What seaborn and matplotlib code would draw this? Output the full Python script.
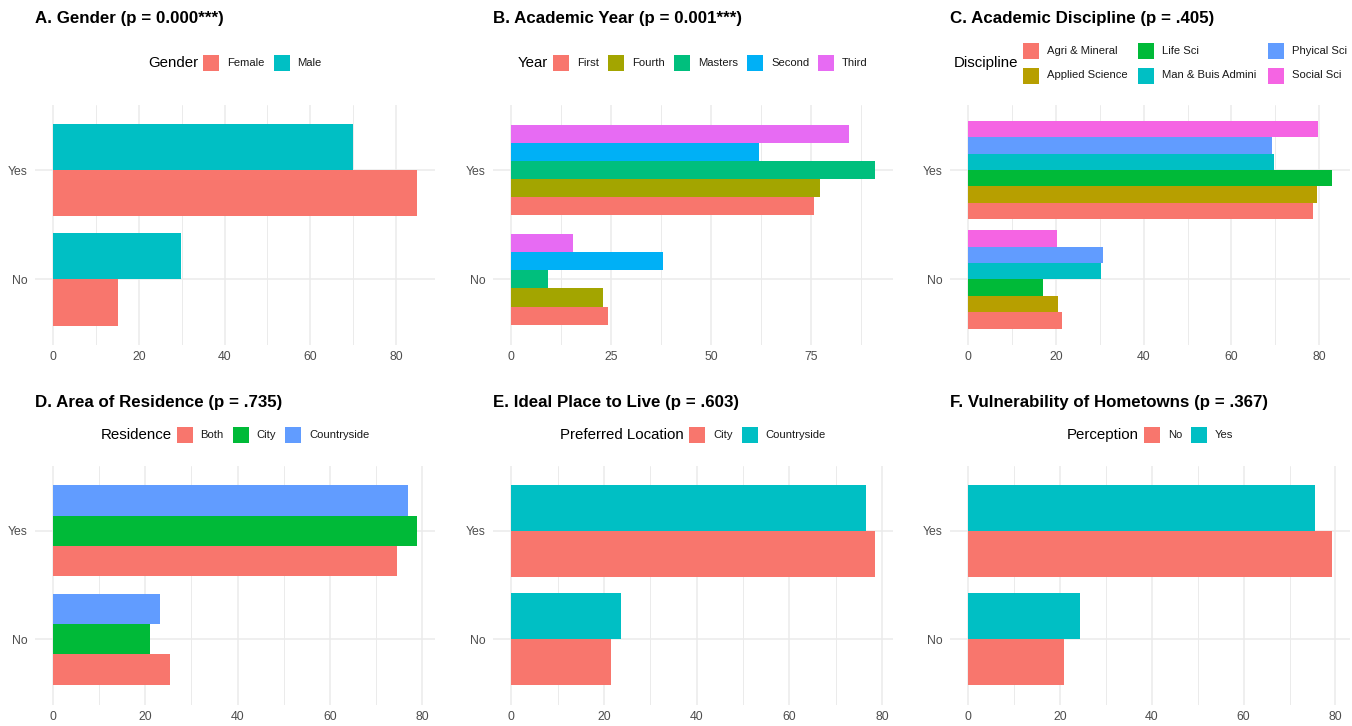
import numpy as np
import pandas as pd
import matplotlib
matplotlib.use("Agg")
import matplotlib.pyplot as plt
import seaborn as sns
from matplotlib.ticker import MultipleLocator, NullFormatter
from matplotlib.offsetbox import AnchoredOffsetbox, HPacker, VPacker, TextArea, DrawingArea
from matplotlib.patches import Rectangle

# ---------------- data (percent within group) ----------------
responses = ["No", "Yes"]

gender_groups = ["Female", "Male"]
gender_yes = [84.9, 70.1]
gender_no = [15.1, 29.9]

year_groups = ["First", "Fourth", "Masters", "Second", "Third"]
year_yes = [75.8, 77.1, 90.9, 62.0, 84.5]
year_no = [24.2, 22.9, 9.1, 38.0, 15.5]

disc_groups = ["Agri & Mineral", "Applied Science", "Life Sci", "Man & Buis Admini",
               "Phyical Sci", "Social Sci"]
disc_yes = [78.6, 79.6, 82.9, 69.7, 69.2, 79.8]
disc_no = [21.4, 20.4, 17.1, 30.3, 30.8, 20.2]

res_groups = ["Both", "City", "Countryside"]
res_yes = [74.7, 78.9, 76.9]
res_no = [25.3, 21.1, 23.1]

ideal_groups = ["City", "Countryside"]
ideal_yes = [78.4, 76.4]
ideal_no = [21.6, 23.6]

vuln_groups = ["No", "Yes"]
vuln_yes = [79.2, 75.6]
vuln_no = [20.8, 24.4]

titles = ["A. Gender (p = 0.000***)", "B. Academic Year (p = 0.001***)",
          "C. Academic Discipline (p = .405)", "D. Area of Residence (p = .735)",
          "E. Ideal Place to Live (p = .603)", "F. Vulnerability of Hometowns (p = .367)"]
legend_titles = ["Gender", "Year", "Discipline", "Residence", "Preferred Location", "Perception"]

palettes = {
    2: ["#F8766D", "#00BFC4"],
    3: ["#F8766D", "#00BA38", "#619CFF"],
    5: ["#F8766D", "#A3A500", "#00BF7D", "#00B0F6", "#E76BF3"],
    6: ["#F8766D", "#B79F00", "#00BA38", "#00BFC4", "#619CFF", "#F564E3"],
}

panels = [
    (gender_groups, gender_yes, gender_no),
    (year_groups, year_yes, year_no),
    (disc_groups, disc_yes, disc_no),
    (res_groups, res_yes, res_no),
    (ideal_groups, ideal_yes, ideal_no),
    (vuln_groups, vuln_yes, vuln_no),
]
major_steps = [20, 25, 20, 20, 20, 20]
bar_widths = [0.845, 0.83, 0.9, 0.835, 0.845, 0.845]

# ---------------- style ----------------
sns.set_theme(style="white")
FONT = "Liberation Sans"
plt.rcParams["font.family"] = [FONT, "DejaVu Sans"]

W, H, DPI = 1352, 726, 100
fig = plt.figure(figsize=(W / DPI, H / DPI), dpi=DPI)


def px(v):
    return v * 72.0 / DPI


# panel boxes in pixels: (left, right, top, bottom)
col_lr = [(35, 435), (493, 893), (950, 1350)]
row_tb = [(104.5, 345.0), (465.5, 704.5)]
title_y = [19, 402]
legend_y = [63, 435]

GRID = "#EBEBEB"
TICKC = "#4D4D4D"
TITLE_FS = 12.2
LEG_TITLE_FS = 10.8
LEG_FS = 8.1
TICK_FS = 8.8


def key_entry(color, label):
    da = DrawingArea(px(16), px(16), 0, 0)
    da.add_artist(Rectangle((0, 0), px(16), px(16), facecolor=color, edgecolor="none"))
    ta = TextArea(label, textprops=dict(fontsize=LEG_FS, color="#1A1A1A", family=FONT))
    return HPacker(children=[da, ta], sep=px(8), align="center", pad=0)


for i, (groups, yes, no) in enumerate(panels):
    r, c = divmod(i, 3)
    l, rr = col_lr[c]
    t, b = row_tb[r]
    ax = fig.add_axes([l / W, 1 - b / H, (rr - l) / W, (b - t) / H])

    df = pd.DataFrame({
        "group": list(groups) * 2,
        "response": ["Yes"] * len(groups) + ["No"] * len(groups),
        "pct": list(yes) + list(no),
    })
    pal = palettes[len(groups)]
    sns.barplot(data=df, x="pct", y="response", hue="group", order=responses,
                hue_order=groups, palette=pal, orient="h", width=bar_widths[i],
                saturation=1, errorbar=None, legend=False, linewidth=0, ax=ax)

    vmax = df["pct"].max()
    ax.set_xlim(-0.05 * vmax, 1.05 * vmax)
    ax.set_ylim(-0.6, 1.6)
    ax.set_xlabel("")
    ax.set_ylabel("")
    for s in ax.spines.values():
        s.set_visible(False)

    step = major_steps[i]
    ax.xaxis.set_major_locator(MultipleLocator(step))
    ax.xaxis.set_minor_locator(MultipleLocator(step / 2))
    ax.xaxis.set_minor_formatter(NullFormatter())
    ax.set_axisbelow(True)
    ax.grid(False)
    ax.grid(which="major", axis="both", color=GRID, lw=1.1)
    ax.grid(which="minor", axis="x", color=GRID, lw=0.7)
    ax.tick_params(axis="both", which="both", length=0, labelsize=TICK_FS, labelcolor=TICKC)
    ax.tick_params(axis="y", pad=px(7))
    ax.tick_params(axis="x", pad=px(6))

    # title
    fig.text(l / W, 1 - title_y[r] / H, titles[i], ha="left", va="center",
             fontsize=TITLE_FS, fontweight="bold", color="black", family=FONT)

    # legend (ggplot style: title on the left, keys horizontally)
    title_box = TextArea(legend_titles[i],
                         textprops=dict(fontsize=LEG_TITLE_FS, color="black", family=FONT))
    entries = [key_entry(pal[k], g) for k, g in enumerate(groups)]
    if len(groups) == 6:
        cols = [VPacker(children=[entries[2 * j], entries[2 * j + 1]], sep=px(9),
                        align="left", pad=0) for j in range(3)]
        keys = HPacker(children=cols, sep=px(11), align="center", pad=0)
    else:
        keys = HPacker(children=entries, sep=px(9), align="center", pad=0)
    box = HPacker(children=[title_box, keys], sep=px(5), align="center", pad=0)
    anch = AnchoredOffsetbox(loc="center", child=box, pad=0, borderpad=0, frameon=False,
                             bbox_to_anchor=(((l + rr) / 2) / W, 1 - legend_y[r] / H),
                             bbox_transform=fig.transFigure)
    fig.add_artist(anch)

fig.savefig("out.png", dpi=DPI)
